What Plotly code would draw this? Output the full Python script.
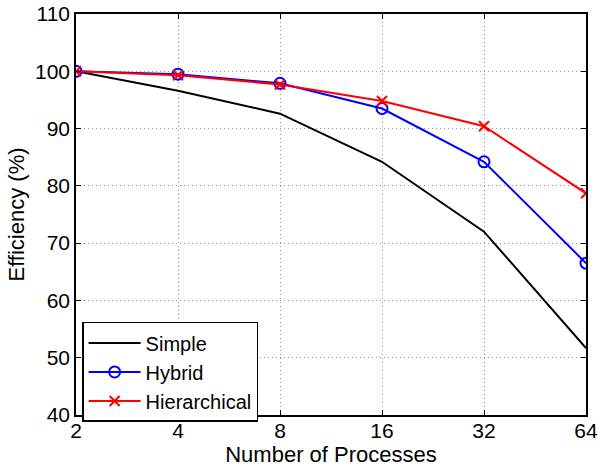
import plotly.graph_objects as go

processes = [2, 4, 8, 16, 32, 64]
tick_labels = ["2", "4", "8", "16", "32", "64"]
simple = [100.0, 96.6, 92.6, 84.2, 72.0, 51.7]
hybrid = [100.0, 99.5, 97.9, 93.5, 84.2, 66.5]
hierarchical = [100.0, 99.3, 97.7, 94.8, 90.4, 78.7]

FONT = "Liberation Sans, Arial, Helvetica, sans-serif"
FS = 21
FL = 22

fig = go.Figure()
fig.add_trace(go.Scatter(x=processes, y=simple, name="Simple", mode="lines",
                         line=dict(color="black", width=2)))
fig.add_trace(go.Scatter(x=processes, y=hybrid, name="Hybrid", mode="lines+markers",
                         line=dict(color="#0000ff", width=2),
                         marker=dict(symbol="circle-open", size=11, color="#0000ff",
                                     line=dict(width=2, color="#0000ff"))))
fig.add_trace(go.Scatter(x=processes, y=hierarchical, name="Hierarchical", mode="lines+markers",
                         line=dict(color="#ff0000", width=2),
                         marker=dict(symbol="x-thin-open", size=10, color="#ff0000",
                                     line=dict(width=2, color="#ff0000"))))

axis_common = dict(showline=True, linecolor="black", linewidth=1.5, mirror="allticks",
                   ticks="inside", ticklen=5, tickcolor="black", automargin=False,
                   showgrid=True, gridcolor="#999999", griddash="1px,3px", gridwidth=1,
                   zeroline=False, tickfont=dict(size=FS, color="black", family=FONT))

fig.update_xaxes(type="log", range=[0.30103, 1.80618], tickvals=processes, ticktext=tick_labels,
                 ticklabelstandoff=-4,
                 title=dict(text="Number of Processes", font=dict(size=FL, color="black", family=FONT),
                            standoff=0),
                 **axis_common)
fig.update_yaxes(range=[40, 110], tickvals=[40, 50, 60, 70, 80, 90, 100, 110],
                 ticklabelstandoff=0,
                 title=dict(text="Efficiency (%)", font=dict(size=FL, color="black", family=FONT),
                            standoff=4),
                 **axis_common)

fig.update_layout(width=600, height=468,
                  margin=dict(l=76, r=14, t=14, b=53, autoexpand=False),
                  paper_bgcolor="white", plot_bgcolor="white",
                  font=dict(family=FONT, size=FS, color="black"),
                  legend=dict(x=0.012, y=0.232, xanchor="left", yanchor="top",
                              bgcolor="white", bordercolor="black", borderwidth=1.5,
                              font=dict(size=20, color="black", family=FONT),
                              tracegroupgap=0, itemwidth=52))

fig.write_html("out.html", post_script="document.body.style.margin='0';",
               config={"displayModeBar": False})
